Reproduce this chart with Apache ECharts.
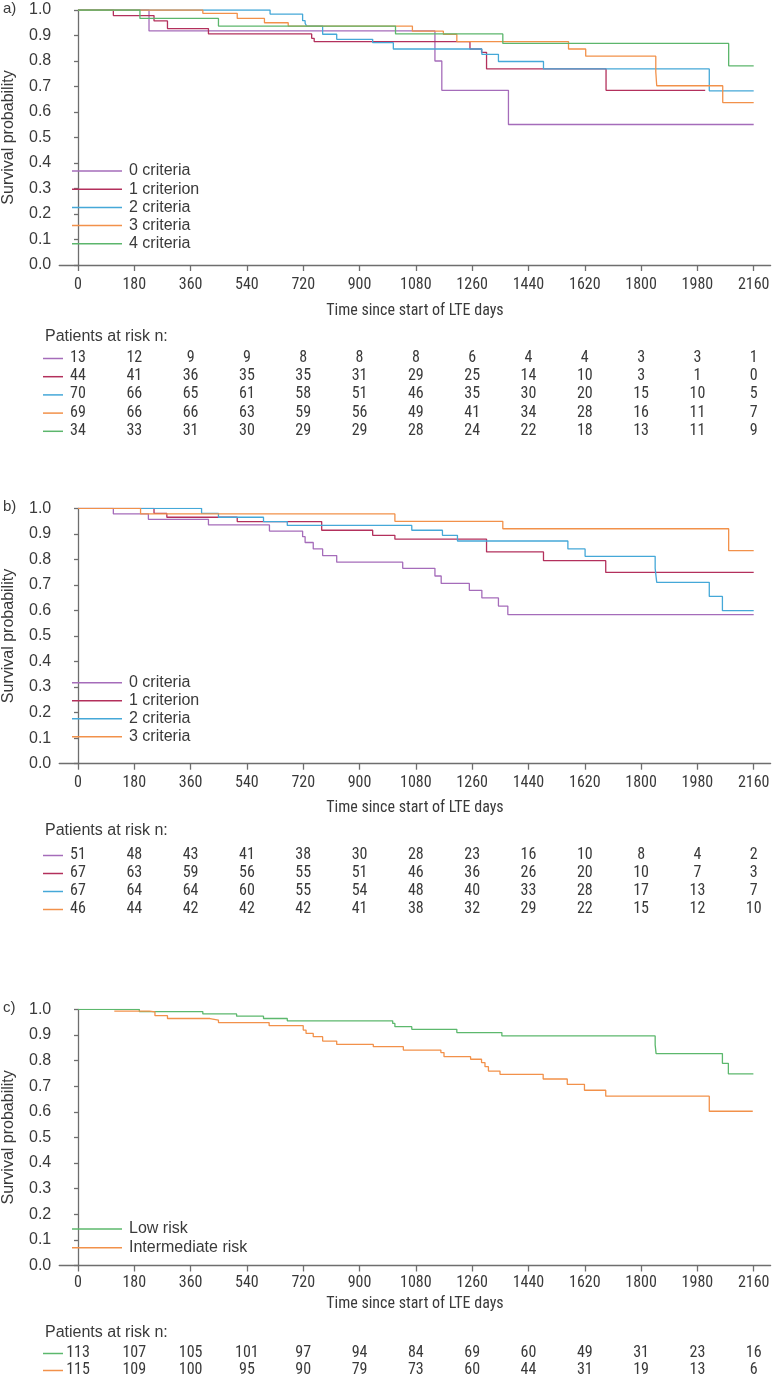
<!DOCTYPE html>
<html><head><meta charset="utf-8">
<script src="https://cdn.jsdelivr.net/npm/echarts@6/dist/echarts.min.js"></script>
<style>html,body{margin:0;padding:0;background:#fff}#c{width:772px;height:1380px}</style>
</head><body><div id="c"></div>
<script>
// ---------- shared ticks ----------
const xTicks = [0,180,360,540,720,900,1080,1260,1440,1620,1800,1980,2160];
const xTitle = 'Time since start of LTE days';
const yTitle = 'Survival probability';
const riskTitle = 'Patients at risk n:';

// ---------- panel a ----------
const aNames = ['0 criteria','1 criterion','2 criteria','3 criteria','4 criteria'];
const aColors = ['#a56cba','#b3305c','#45a8d8','#f2914a','#5cb66c'];
const a0T = [0,227,1141,1163,1376,2160];
const a0S = [1,0.918,0.800,0.685,0.551,0.551];
const a1T = [0,113,243,286,417,747,755,1253,1290,1306,1688,2005];
const a1S = [1,0.978,0.957,0.927,0.906,0.889,0.876,0.847,0.834,0.769,0.685,0.685];
const a2T = [0,614,718,726,731,782,827,942,1008,1291,1344,1488,2018,2160];
const a2S = [1,0.984,0.958,0.948,0.937,0.905,0.885,0.872,0.847,0.826,0.798,0.769,0.683,0.683];
const a3T = [0,399,509,596,672,1069,1168,1211,1568,1623,1847,1850,2061,2160];
const a3S = [1,0.987,0.967,0.950,0.937,0.917,0.905,0.876,0.847,0.819,0.758,0.703,0.637,0.637];
const a4T = [0,198,449,1015,1358,2080,2160];
const a4S = [1,0.967,0.937,0.906,0.869,0.781,0.781];
const aRisk0 = [13,12,9,9,8,8,8,6,4,4,3,3,1];
const aRisk1 = [44,41,36,35,35,31,29,25,14,10,3,1,0];
const aRisk2 = [70,66,65,61,58,51,46,35,30,20,15,10,5];
const aRisk3 = [69,66,66,63,59,56,49,41,34,28,16,11,7];
const aRisk4 = [34,33,31,30,29,29,28,24,22,18,13,11,9];

// ---------- panel b ----------
const bNames = ['0 criteria','1 criterion','2 criteria','3 criteria'];
const bColors = ['#a56cba','#b3305c','#45a8d8','#f2914a'];
const b0T = [0,113,225,417,612,718,726,752,782,827,1038,1141,1161,1251,1291,1344,1374,2160];
const b0S = [1,0.978,0.957,0.935,0.911,0.889,0.866,0.841,0.815,0.789,0.765,0.735,0.706,0.679,0.649,0.617,0.584,0.584];
const b1T = [0,243,284,509,779,942,1013,1306,1488,1687,2160];
const b1S = [1,0.980,0.965,0.948,0.914,0.894,0.879,0.829,0.795,0.749,0.749];
const b2T = [0,395,449,593,669,1067,1165,1213,1566,1621,1845,1850,2018,2060,2160];
const b2S = [1,0.980,0.965,0.948,0.933,0.914,0.894,0.872,0.841,0.812,0.765,0.710,0.655,0.599,0.599];
const b3T = [0,200,1013,1358,2080,2160];
const b3S = [1,0.978,0.949,0.920,0.834,0.834];
const bRisk0 = [51,48,43,41,38,30,28,23,16,10,8,4,2];
const bRisk1 = [67,63,59,56,55,51,46,36,26,20,10,7,3];
const bRisk2 = [67,64,64,60,55,54,48,40,33,28,17,13,7];
const bRisk3 = [46,44,42,42,42,41,38,32,29,22,15,12,10];

// ---------- panel c ----------
const cNames = ['Low risk','Intermediate risk'];
const cColors = ['#5cb86d','#f2914a'];
const c0T = [0,196,399,507,593,669,1006,1013,1067,1211,1355,1845,1848,2060,2079,2159];
const c0S = [1,0.991,0.982,0.973,0.964,0.955,0.945,0.932,0.922,0.909,0.896,0.861,0.827,0.789,0.748,0.748];
const c1T = [116,228,246,286,422,449,611,720,729,752,782,827,944,1040,1160,1170,1255,1290,1301,1312,1349,1487,1564,1619,1687,2018,2157];
const c1S = [0.993,0.990,0.975,0.964,0.958,0.948,0.936,0.919,0.906,0.893,0.876,0.863,0.854,0.841,0.831,0.815,0.805,0.792,0.776,0.759,0.746,0.728,0.707,0.684,0.661,0.602,0.602];
const cRisk0 = [113,107,105,101,97,94,84,69,60,49,31,23,16];
const cRisk1 = [115,109,100,95,90,79,73,60,44,31,19,13,6];

// ---------- layout ----------
const NUMFONT = '"Liberation Sans Narrow","Roboto Condensed","DejaVu Sans Condensed","Liberation Sans",sans-serif';
const TXTFONT = '"Liberation Sans",Arial,sans-serif';
const TXT = '#3a3a3a';
const AX = '#6e6e6e';
const XMIN = -60, XMAX = 2214;
const K = (753.7 - 78) / 2160;
const GL = 78 + XMIN * K;
const GW = (XMAX - XMIN) * K;

const panels = [
  {label:'a)', top:10, bottom:265, names:aNames, colors:aColors,
   curves:[[a0T,a0S],[a1T,a1S],[a2T,a2S],[a3T,a3S],[a4T,a4S]],
   risk:[aRisk0,aRisk1,aRisk2,aRisk3,aRisk4], legendTop:171, legendStep:18.2,
   riskHead:338, riskRow:358, riskStep:18.2, labelMargin:12, nameGap:38},
  {label:'b)', top:508.3, bottom:763.7, names:bNames, colors:bColors,
   curves:[[b0T,b0S],[b1T,b1S],[b2T,b2S],[b3T,b3S]],
   risk:[bRisk0,bRisk1,bRisk2,bRisk3], legendTop:682.7, legendStep:18,
   riskHead:832, riskRow:855, riskStep:18, labelMargin:11, nameGap:36},
  {label:'c)', top:1009.3, bottom:1265.5, names:cNames, colors:cColors,
   curves:[[c0T,c0S],[c1T,c1S]],
   risk:[cRisk0,cRisk1], legendTop:1229, legendStep:18.7,
   riskHead:1334, riskRow:1353, riskStep:17, labelMargin:9, nameGap:30}
];

const grid = [], xAxis = [], yAxis = [], series = [], legend = [], graphic = [];

panels.forEach((p, pi) => {
  const gi = grid.length;
  grid.push({left:GL, width:GW, top:p.top, height:p.bottom - p.top, containLabel:false, outerBoundsMode:'none'});
  xAxis.push({gridIndex:gi, type:'value', min:XMIN, max:XMAX,
    axisLine:{show:true, lineStyle:{color:AX, width:1.3}},
    axisTick:{show:true, customValues:xTicks, length:6, lineStyle:{color:AX, width:1.3}},
    axisLabel:{customValues:xTicks, margin:p.labelMargin, color:TXT, fontSize:16, fontFamily:NUMFONT,
               formatter:v => String(v)},
    splitLine:{show:false},
    name:xTitle, nameLocation:'middle', nameGap:p.nameGap,
    nameTextStyle:{color:TXT, fontSize:16, fontFamily:NUMFONT}});
  yAxis.push({gridIndex:gi, type:'value', min:0, max:1, interval:0.1,
    axisLine:{show:true, lineStyle:{color:AX, width:1.3}},
    axisTick:{show:true, length:4, lineStyle:{color:AX, width:1.3}},
    axisLabel:{margin:8, color:TXT, fontSize:16, fontFamily:TXTFONT, formatter:v => v.toFixed(1)},
    splitLine:{show:false},
    name:yTitle, nameLocation:'middle', nameGap:43, nameRotate:90,
    nameTextStyle:{color:TXT, fontSize:16, fontFamily:TXTFONT}});
  p.curves.forEach((c, ci) => {
    series.push({type:'line', name:p.names[ci], xAxisIndex:gi, yAxisIndex:gi,
      step:'end', showSymbol:false, symbol:'none', silent:true,
      lineStyle:{width:1.3, color:p.colors[ci]}, itemStyle:{color:p.colors[ci]},
      data:c[0].map((t, i) => [t, c[1][i]])});
  });
  legend.push({orient:'vertical', left:72, top:p.legendTop - p.legendStep/2, padding:0,
    itemGap:0, itemWidth:50, itemHeight:1.5, icon:'rect',
    data:p.names.map((n, i) => ({name:n, itemStyle:{color:p.colors[i]}})),
    selectedMode:false,
    textStyle:{color:TXT, fontSize:16, fontFamily:TXTFONT, lineHeight:p.legendStep, padding:[0,0,0,2]}});

  // risk table grid
  const ri = grid.length;
  const N = p.risk.length;
  grid.push({left:GL, width:GW, top:p.riskRow - p.riskStep/2, height:N * p.riskStep, containLabel:false, outerBoundsMode:'none'});
  xAxis.push({gridIndex:ri, type:'value', min:XMIN, max:XMAX, show:false});
  yAxis.push({gridIndex:ri, type:'value', min:-0.5, max:N - 0.5, inverse:true, show:false});
  const cells = [];
  p.risk.forEach((row, r) => row.forEach((v, k) => cells.push([xTicks[k], r, v])));
  series.push({type:'custom', xAxisIndex:ri, yAxisIndex:ri, silent:true, clip:false,
    encode:{x:0, y:1}, data:cells,
    renderItem:(params, api) => {
      const pt = api.coord([api.value(0), api.value(1)]);
      return {type:'text', x:pt[0], y:pt[1],
        style:{text:String(api.value(2)), fill:TXT, fontSize:16, fontFamily:NUMFONT,
               align:'center', verticalAlign:'middle'}};
    }});
  series.push({type:'custom', xAxisIndex:ri, yAxisIndex:ri, silent:true, clip:false,
    encode:{x:0, y:1}, data:p.risk.map((row, r) => [0, r, r]),
    renderItem:(params, api) => {
      const pt = api.coord([api.value(0), api.value(1)]);
      return {type:'line', shape:{x1:43, y1:pt[1] + 0.5, x2:63, y2:pt[1] + 0.5},
        style:{stroke:p.colors[api.value(2)], lineWidth:1.5}};
    }});
  graphic.push({type:'text', left:45, top:p.riskHead - 9,
    style:{text:riskTitle, fill:TXT, fontSize:16, fontFamily:TXTFONT}});
  graphic.push({type:'text', left:3, top:p.top - 9,
    style:{text:p.label, fill:TXT, fontSize:15, fontFamily:TXTFONT}});
});

const chart = echarts.init(document.getElementById('c'), null, {renderer:'canvas'});
chart.setOption({animation:false, backgroundColor:'#fff', grid, xAxis, yAxis, series, legend, graphic});
</script></body></html>
